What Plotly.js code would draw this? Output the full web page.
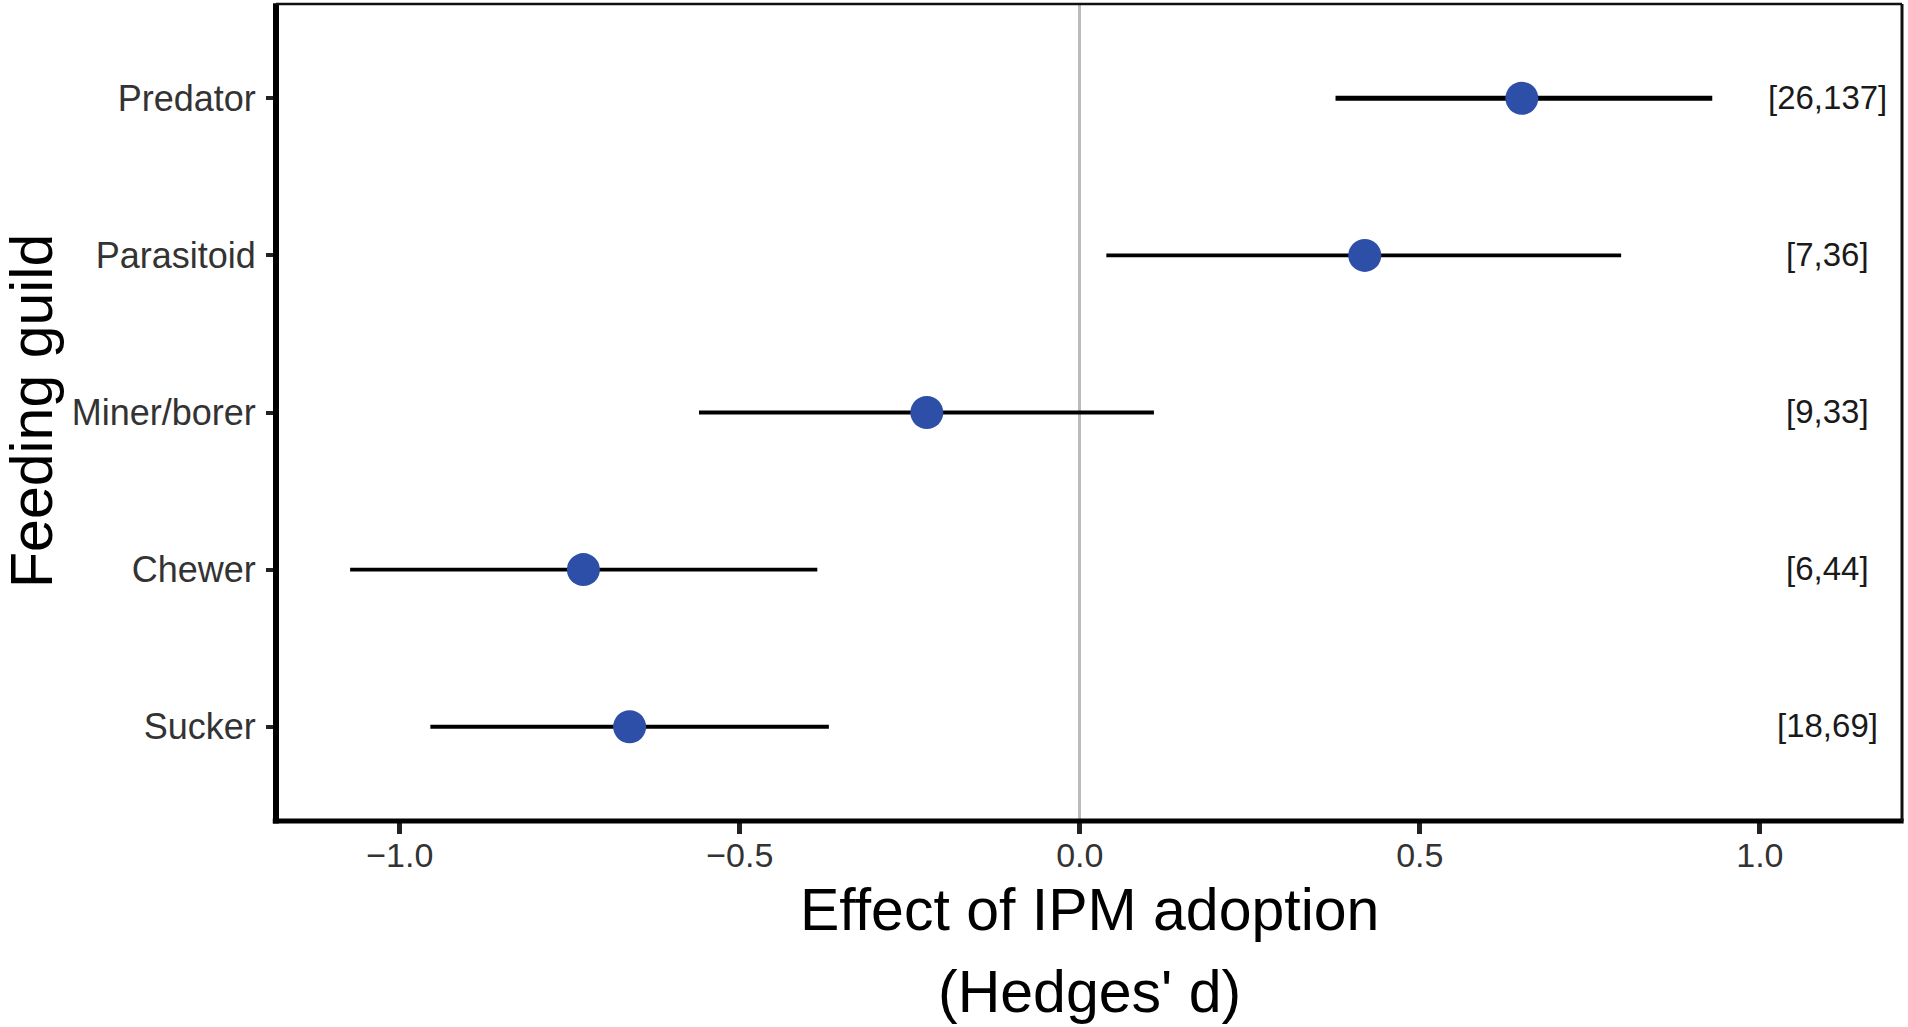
<!DOCTYPE html>
<html>
<head>
<meta charset="utf-8">
<script src="https://cdn.plot.ly/plotly-3.0.1.min.js"></script>
<style>
html,body{margin:0;padding:0;background:#fff;}
#chart{width:1908px;height:1027px;}
</style>
</head>
<body>
<div id="chart"></div>
<script>
// Data
const guilds = ['Predator', 'Parasitoid', 'Miner/borer', 'Chewer', 'Sucker'];
const effect = [0.650, 0.419, -0.225, -0.730, -0.662];
const ciLow  = [0.376, 0.039, -0.560, -1.073, -0.955];
const ciHigh = [0.930, 0.796, 0.109, -0.386, -0.369];
const nLabels = ['[26,137]', '[7,36]', '[9,33]', '[6,44]', '[18,69]'];
const labelX = 1.1;
const xTickVals = [-1.0, -0.5, 0.0, 0.5, 1.0];
const xTickText = ['\u22121.0', '\u22120.5', '0.0', '0.5', '1.0'];
const xTitleLines = ['Effect of IPM adoption', '(Hedges\' d)'];
const yTitle = 'Feeding guild';

const FONT = 'Liberation Sans, Arial, sans-serif';
const BLUE = '#2E4FA8';

function errTrace(idx, thick) {
  return {
    type: 'scatter', mode: 'markers',
    x: idx.map(i => effect[i]),
    y: idx.map(i => guilds[i]),
    marker: {size: 33, color: BLUE, line: {width: 0}},
    error_x: {
      type: 'data', symmetric: false,
      array: idx.map(i => ciHigh[i] - effect[i]),
      arrayminus: idx.map(i => effect[i] - ciLow[i]),
      color: '#000000', thickness: thick, width: 0
    },
    hoverinfo: 'skip', showlegend: false
  };
}

const traces = [
  errTrace([0], 5),
  errTrace([1, 2, 3, 4], 3.9)
];

const annotations = nLabels.map((t, i) => ({
  x: labelX, y: guilds[i], xref: 'x', yref: 'y',
  text: t, showarrow: false, xanchor: 'center', yanchor: 'middle', yshift: 1,
  font: {family: FONT, size: 33, color: '#1a1a1a'}
}));
annotations.push(
  {x: 0.5, y: -0.1114, xref: 'paper', yref: 'paper', text: xTitleLines[0], showarrow: false,
   xanchor: 'center', yanchor: 'middle', yshift: 2, font: {family: FONT, size: 59, color: '#000000'}},
  {x: 0.5, y: -0.2093, xref: 'paper', yref: 'paper', text: xTitleLines[1], showarrow: false,
   xanchor: 'center', yanchor: 'middle', font: {family: FONT, size: 59, color: '#000000'}},
  {x: -0.1500, y: 0.502, xref: 'paper', yref: 'paper', text: yTitle, showarrow: false, textangle: -90,
   xanchor: 'center', yanchor: 'middle', font: {family: FONT, size: 59, color: '#000000'}}
);

const layout = {
  width: 1908, height: 1027,
  margin: {l: 276, r: 6, t: 4, b: 206, pad: 0},
  paper_bgcolor: '#ffffff', plot_bgcolor: '#ffffff',
  font: {family: FONT, color: '#333333'},
  xaxis: {
    range: [-1.182, 1.209],
    tickvals: xTickVals,
    ticktext: xTickText,
    tickfont: {family: FONT, size: 34, color: '#333333'},
    ticks: 'outside', ticklen: 12, tickwidth: 5, tickcolor: '#222222',
    ticklabelstandoff: -8,
    showgrid: false, showline: false,
    zeroline: true, zerolinecolor: '#BBBBBB', zerolinewidth: 3,
    fixedrange: true
  },
  yaxis: {
    type: 'category',
    categoryorder: 'array',
    categoryarray: guilds.slice().reverse(),
    range: [-0.6, 4.6],
    tickfont: {family: FONT, size: 36, color: '#333333'},
    ticks: 'outside', ticklen: 9, tickwidth: 4, tickcolor: '#222222',
    ticklabelstandoff: 3,
    showgrid: false, showline: false, zeroline: false,
    fixedrange: true
  },
  annotations: annotations,
  shapes: [
    {type: 'line', xref: 'paper', yref: 'paper', x0: 0, x1: 0, y0: -0.003, y1: 1.001, line: {color: '#000', width: 6}},
    {type: 'line', xref: 'paper', yref: 'paper', x0: -0.002, x1: 1.001, y0: 0, y1: 0, line: {color: '#000', width: 5}},
    {type: 'line', xref: 'paper', yref: 'paper', x0: 0, x1: 1, y0: 1, y1: 1, line: {color: '#111', width: 2.5}},
    {type: 'line', xref: 'paper', yref: 'paper', x0: 1, x1: 1, y0: 0, y1: 1, line: {color: '#111', width: 3}}
  ]
};

Plotly.newPlot('chart', traces, layout, {displayModeBar: false, staticPlot: true});
</script>
</body>
</html>
